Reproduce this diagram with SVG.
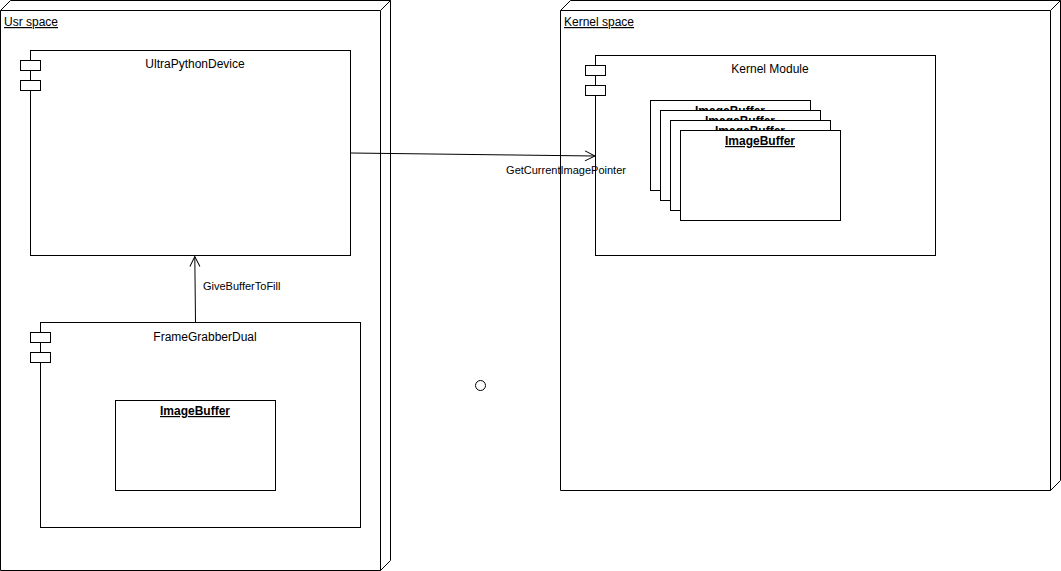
<svg xmlns="http://www.w3.org/2000/svg" width="1061" height="571" viewBox="0 0 1061 571">
<defs>
<style>
.s{fill:#fff;stroke:#000;stroke-width:1}
.t{font-family:"Liberation Sans",Arial,sans-serif;font-size:12px;fill:#000}
.c{text-anchor:middle}
.u{text-decoration:underline}
.b{font-weight:bold}
.e{font-family:"Liberation Sans",Arial,sans-serif;font-size:11px;fill:#000}
.l{fill:none;stroke:#000;stroke-width:1}
</style>
<marker id="open" viewBox="0 0 12 12" refX="11" refY="6" markerWidth="12" markerHeight="12" markerUnits="userSpaceOnUse" orient="auto">
<path d="M1,1 L11,6 L1,11" fill="none" stroke="#000" stroke-width="1"/>
</marker>
</defs>
<rect width="1061" height="571" fill="#fff"/>
<g id="usr-space">
<path class="s" d="M0.5,10.5 L10.5,0.5 L390.5,0.5 L390.5,560.5 L380.5,570.5 L0.5,570.5 Z"/>
<path class="l" d="M0.5,10.5 L380.5,10.5 L390.5,0.5 M380.5,10.5 L380.5,570.5"/>
<text class="t u" x="4" y="26">Usr space</text>
</g>
<g id="kernel-space">
<path class="s" d="M560.5,10.5 L570.5,0.5 L1060.5,0.5 L1060.5,480.5 L1050.5,490.5 L560.5,490.5 Z"/>
<path class="l" d="M560.5,10.5 L1050.5,10.5 L1060.5,0.5 M1050.5,10.5 L1050.5,490.5"/>
<text class="t u" x="564" y="26">Kernel space</text>
</g>
<g id="ultrapythondevice">
<rect class="s" x="30.5" y="50.5" width="320" height="205"/>
<rect class="s" x="20.5" y="60.5" width="20" height="10"/>
<rect class="s" x="20.5" y="80.5" width="20" height="10"/>
<text class="t c" x="195" y="68">UltraPythonDevice</text>
</g>
<g id="framegrabberdual">
<rect class="s" x="40.5" y="322.5" width="320" height="205"/>
<rect class="s" x="30.5" y="332.5" width="20" height="10"/>
<rect class="s" x="30.5" y="352.5" width="20" height="10"/>
<text class="t c" x="205" y="341">FrameGrabberDual</text>
</g>
<g id="imagebuffer-usr">
<rect class="s" x="115.5" y="400.5" width="160" height="90"/>
<text class="t c b u" x="195" y="415">ImageBuffer</text>
</g>
<g id="kernel-module">
<rect class="s" x="595.5" y="55.5" width="340" height="200"/>
<rect class="s" x="585.5" y="65.5" width="20" height="10"/>
<rect class="s" x="585.5" y="85.5" width="20" height="10"/>
<text class="t c" x="770" y="73">Kernel Module</text>
</g>
<g id="imagebuffer-1">
<rect class="s" x="650.5" y="100.5" width="160" height="90"/>
<text class="t c b u" x="730" y="115">ImageBuffer</text>
</g>
<g id="imagebuffer-2">
<rect class="s" x="660.5" y="110.5" width="160" height="90"/>
<text class="t c b u" x="740" y="125">ImageBuffer</text>
</g>
<g id="imagebuffer-3">
<rect class="s" x="670.5" y="120.5" width="160" height="90"/>
<text class="t c b u" x="750" y="135">ImageBuffer</text>
</g>
<g id="imagebuffer-4">
<rect class="s" x="680.5" y="130.5" width="160" height="90"/>
<text class="t c b u" x="760" y="145">ImageBuffer</text>
</g>
<g id="circle">
<circle cx="480.5" cy="385.5" r="5" fill="#fff" stroke="#000"/>
</g>
<g id="connectors">
<path class="l" d="M350.5,153 L595,156" marker-end="url(#open)"/>
<text class="e c" x="566" y="174">GetCurrentImagePointer</text>
<path class="l" d="M195.5,322 L194.8,256.5" marker-end="url(#open)"/>
<text class="e" x="203" y="290">GiveBufferToFill</text>
</g>
</svg>
